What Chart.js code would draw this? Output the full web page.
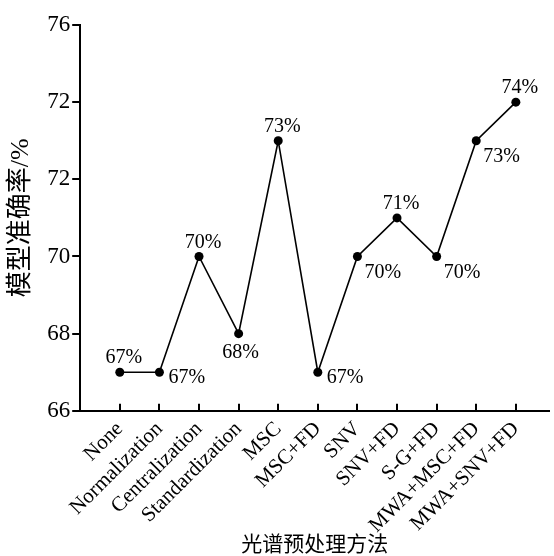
<!DOCTYPE html>
<html>
<head>
<meta charset="utf-8">
<script src="https://cdn.jsdelivr.net/npm/chart.js@4"></script>
<style>
  html, body { margin: 0; padding: 0; background: #fff; }
  #wrap { width: 554px; height: 556px; position: relative; }
</style>
</head>
<body>
<div id="wrap"><canvas id="accChart"></canvas></div>
<script>
// preprocessing methods (x categories)
var methods = ['None', 'Normalization', 'Centralization', 'Standardization', 'MSC', 'MSC+FD',
               'SNV', 'SNV+FD', 'S-G+FD', 'MWA+MSC+FD', 'MWA+SNV+FD'];
// model accuracy, %
var accuracy = [67, 67, 70, 68, 73, 67, 70, 71, 70, 73, 74];
// y tick labels as printed in the original (the 74 tick reads "72")
var yTickLabels = ['66', '68', '70', '72', '72', '76'];
// where each value label sits relative to its point
var labelSide = ['above', 'right', 'above', 'below', 'above', 'right',
                 'belowRight', 'above', 'belowRight', 'belowRight', 'above'];

var SERIF = '"Liberation Serif", "Times New Roman", serif';
var CJK = '"Liberation Serif", "Noto Sans CJK SC", serif';

var placements = {
    above:      { dx: 4, dy: -14, align: 'center' },
    below:      { dx: 2, dy: 19,  align: 'center' },
    right:      { dx: 9, dy: 6,   align: 'left' },
    belowRight: { dx: 7, dy: 16,  align: 'left' }
};

// value labels next to each point
var pointLabels = {
    id: 'pointLabels',
    afterDatasetsDraw: function (chart) {
        var ctx = chart.ctx;
        var meta = chart.getDatasetMeta(0);
        ctx.save();
        ctx.font = '20px ' + SERIF;
        ctx.fillStyle = '#000';
        ctx.textBaseline = 'middle';
        meta.data.forEach(function (pt, i) {
            var p = placements[labelSide[i]];
            ctx.textAlign = p.align;
            ctx.fillText(accuracy[i] + '%', pt.x + p.dx, pt.y + p.dy);
        });
        ctx.restore();
    }
};

// x tick marks point up into the plot
var innerTicks = {
    id: 'innerTicks',
    afterDraw: function (chart) {
        var ctx = chart.ctx;
        var xs = chart.scales.x;
        var bottom = chart.chartArea.bottom;
        ctx.save();
        ctx.strokeStyle = '#000';
        ctx.lineWidth = 2;
        methods.forEach(function (m, i) {
            var x = Math.round(xs.getPixelForValue(i));
            ctx.beginPath();
            ctx.moveTo(x, bottom);
            ctx.lineTo(x, bottom - 7);
            ctx.stroke();
        });
        ctx.restore();
    }
};

var ctx = document.getElementById('accChart');
new Chart(ctx.getContext('2d'), {
    type: 'line',
    data: {
        datasets: [{
            data: accuracy.map(function (v, i) { return { x: i, y: v }; }),
            borderColor: '#000',
            borderWidth: 1.6,
            pointRadius: 4.5,
            pointBackgroundColor: '#000',
            pointBorderWidth: 0,
            tension: 0,
            clip: false
        }]
    },
    options: {
        animation: false,
        responsive: true,
        maintainAspectRatio: false,
        layout: { padding: { top: 25, right: 1, left: 6, bottom: 0 } },
        plugins: { legend: { display: false }, tooltip: { enabled: false } },
        scales: {
            x: {
                type: 'linear',
                min: -1, max: 10.85,
                afterBuildTicks: function (s) {
                    s.ticks = methods.map(function (m, i) { return { value: i }; });
                },
                grid: { display: false, drawTicks: false },
                border: { color: '#000', width: 2 },
                ticks: {
                    autoSkip: false,
                    minRotation: 45, maxRotation: 45,
                    padding: 6,
                    color: '#000',
                    font: { family: SERIF, size: 21 },
                    callback: function (v) { return methods[v]; }
                },
                title: {
                    display: true, text: '光谱预处理方法', color: '#000',
                    font: { family: CJK, size: 21, lineHeight: 1 },
                    padding: { top: -9, bottom: 0 }
                }
            },
            y: {
                min: 66, max: 76,
                grid: { drawOnChartArea: false, drawTicks: true, tickLength: 8, color: '#000', lineWidth: 2 },
                border: { color: '#000', width: 2 },
                ticks: {
                    stepSize: 2,
                    padding: 2,
                    color: '#000',
                    font: { family: SERIF, size: 23 },
                    callback: function (v, i) { return yTickLabels[i]; }
                },
                title: {
                    display: true, text: '模型准确率/%', color: '#000',
                    font: { family: CJK, size: 26 },
                    padding: { top: 0, bottom: 8 }
                }
            }
        }
    },
    plugins: [pointLabels, innerTicks]
});
</script>
</body>
</html>
